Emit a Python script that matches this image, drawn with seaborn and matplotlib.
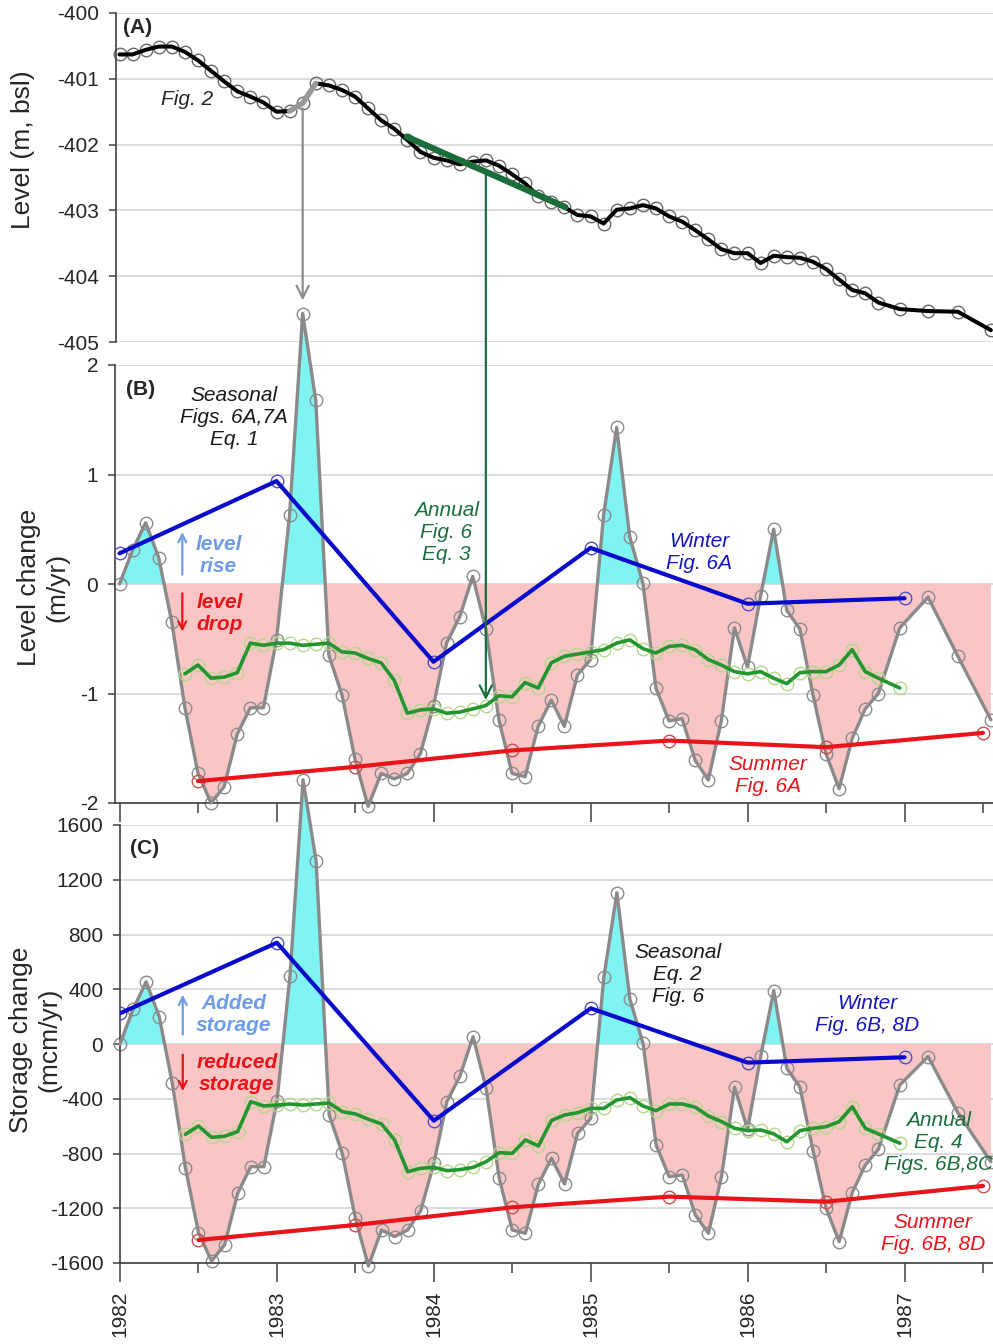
import numpy as np
import matplotlib
matplotlib.use("Agg")
import matplotlib.pyplot as plt
import seaborn as sns
from matplotlib.patches import ConnectionPatch

# ---------------- data ----------------
monthly_times = 1982 + np.arange(59) / 12.0
tail_times = [1986.97, 1987.15, 1987.34, 1987.55]
times = np.concatenate([monthly_times, tail_times])

level = [-400.63, -400.63, -400.56, -400.51, -400.51, -400.59, -400.72, -400.88, -401.04, -401.19,
         -401.27, -401.36, -401.50, -401.49, -401.37, -401.07, -401.10, -401.17, -401.27, -401.45,
         -401.63, -401.76, -401.93, -402.11, -402.20, -402.24, -402.30, -402.26, -402.24, -402.32,
         -402.45, -402.59, -402.78, -402.87, -402.95, -403.07, -403.09, -403.20, -402.99, -402.97,
         -402.92, -402.97, -403.09, -403.17, -403.30, -403.44, -403.59, -403.65, -403.65, -403.80,
         -403.69, -403.71, -403.72, -403.78, -403.89, -404.05, -404.21, -404.26, -404.40,
         -404.50, -404.53, -404.54, -404.82]

level_change = [0.00, 0.31, 0.56, 0.24, -0.35, -1.13, -1.73, -2.00, -1.85, -1.37,
                -1.13, -1.13, -0.51, 0.63, 2.47, 1.68, -0.65, -1.01, -1.60, -2.03,
                -1.73, -1.78, -1.73, -1.55, -1.11, -0.54, -0.30, 0.07, -0.41, -1.24,
                -1.73, -1.76, -1.30, -1.06, -1.30, -0.83, -0.69, 0.63, 1.43, 0.43,
                0.01, -0.95, -1.25, -1.23, -1.61, -1.79, -1.25, -0.40, -0.76, -0.11,
                0.50, -0.24, -0.41, -1.01, -1.55, -1.87, -1.41, -1.14, -1.00,
                -0.40, -0.12, -0.66, -1.24]

storage_change = [0, 253, 455, 200, -287, -903, -1378, -1585, -1468, -1091,
                  -896, -896, -420, 497, 1930, 1337, -519, -799, -1273, -1622,
                  -1359, -1407, -1359, -1217, -872, -421, -234, 53, -324, -981,
                  -1359, -1383, -1023, -835, -1023, -652, -543, 487, 1105, 326,
                  5, -738, -969, -957, -1249, -1383, -969, -316, -623, -88,
                  389, -178, -316, -779, -1200, -1444, -1086, -884, -769,
                  -299, -92, -502, -860]

annual_start = 5
annual_level = [-0.82, -0.74, -0.86, -0.85, -0.81, -0.54, -0.56, -0.54, -0.54, -0.56,
                -0.55, -0.54, -0.62, -0.63, -0.68, -0.72, -0.88, -1.18, -1.15, -1.14,
                -1.18, -1.17, -1.14, -1.11, -1.02, -1.03, -0.90, -0.95, -0.72, -0.66,
                -0.64, -0.62, -0.60, -0.54, -0.51, -0.59, -0.63, -0.57, -0.56, -0.60,
                -0.69, -0.74, -0.80, -0.82, -0.80, -0.86, -0.91, -0.81, -0.80, -0.80,
                -0.74, -0.60, -0.80, -0.86, -0.95]
annual_storage = [-660, -599, -682, -674, -640, -421, -453, -446, -438, -446,
                  -438, -431, -494, -511, -550, -584, -701, -933, -908, -901,
                  -925, -918, -901, -860, -794, -799, -701, -745, -558, -519,
                  -502, -470, -470, -409, -392, -453, -487, -438, -438, -462,
                  -526, -567, -616, -633, -628, -657, -714, -633, -616, -604,
                  -567, -458, -616, -657, -725]

winter_years = [1982.0, 1983.0, 1984.0, 1985.0, 1986.0, 1987.0]
winter_level = [0.28, 0.94, -0.71, 0.33, -0.18, -0.13]
winter_storage = [224, 740, -560, 261, -136, -97]

summer_years = [1982.5, 1983.5, 1984.5, 1985.5, 1986.5, 1987.5]
summer_level = [-1.80, -1.67, -1.52, -1.43, -1.49, -1.36]
summer_storage = [-1432, -1322, -1193, -1115, -1152, -1037]

trend_years = [1983.83, 1984.84]
trend_level = [-401.88, -402.95]

year_ticks = [1982, 1983, 1984, 1985, 1986, 1987]

# ---------------- style ----------------
sns.set_theme(style="white")
plt.rcParams["font.family"] = ["Liberation Sans", "DejaVu Sans"]
plt.rcParams["axes.unicode_minus"] = False

CYAN = "#80F3F3"
PINK = "#F9C5C5"
GREY = "#8A8A8A"
GREEN = "#23962F"
GREEN_MK = "#B5D68C"
DKGREEN = "#1B6E3C"
BLUE = "#0A0ACC"
BLUE_T = "#1616C0"
RED = "#E8141A"
LTBLUE = "#6E9CE8"
SPINE = "#404040"

W, H = 993, 1344
fig = plt.figure(figsize=(W / 100, H / 100), dpi=100)


def px_to_year(px):
    return 1982 + (px - 119.5) / 157.0


def make_axes(left_px, top_px, bottom_px):
    ax = fig.add_axes([left_px / W, 1 - bottom_px / H, 1 - left_px / W, (bottom_px - top_px) / H])
    ax.set_facecolor("none")
    ax.set_xlim(px_to_year(left_px), px_to_year(W))
    ax.yaxis.grid(True, color="#D9D9D9", lw=1.3)
    ax.xaxis.grid(False)
    ax.set_axisbelow(True)
    for s in ["top", "right"]:
        ax.spines[s].set_visible(False)
    for s in ["left", "bottom"]:
        ax.spines[s].set_color(SPINE)
        ax.spines[s].set_linewidth(1.2)
    ax.tick_params(axis="y", direction="out", length=5, width=1.1, color=SPINE,
                   labelsize=15, pad=7, left=True)
    return ax


def series(ax, x, y, color, lw, mec, z, clip=True):
    # markers (open circles) drawn beneath the connecting line
    sns.lineplot(x=x, y=y, ax=ax, color=mec, linewidth=0, marker="o", markersize=9,
                 markerfacecolor="none", markeredgecolor=mec, markeredgewidth=1.0,
                 estimator=None, legend=False, zorder=z - 0.5, clip_on=clip)
    sns.lineplot(x=x, y=y, ax=ax, color=color, linewidth=lw, estimator=None,
                 legend=False, zorder=z, clip_on=clip)


axA = make_axes(116, 13, 342)
axB = make_axes(115, 365, 803)
axC = make_axes(120, 825, 1263)

# ---- panel A ----
axA.spines["bottom"].set_visible(False)
axA.set_ylim(-405, -400)
axA.set_yticks([-400, -401, -402, -403, -404, -405])
axA.set_xticks([])
series(axA, times, level, "black", 2.9, "#6A6A6A", 3, clip=False)
sns.lineplot(x=times[13:16], y=level[13:16], ax=axA, color="#999999", linewidth=4,
             estimator=None, legend=False, zorder=4)
sns.lineplot(x=trend_years, y=trend_level, ax=axA, color=DKGREEN, linewidth=4.5,
             estimator=None, legend=False, zorder=4)
axA.text(0.008, 0.955, "(A)", transform=axA.transAxes, fontsize=15, fontweight="bold",
         ha="left", va="center")
axA.text(1982.43, -401.32, "Fig. 2", fontsize=15, style="italic", ha="center", va="center")


def seasonal_panel(ax, seasonal, annual, winter, summer):
    s = np.array(seasonal, dtype=float)
    ax.fill_between(times, s, 0, where=s > 0, interpolate=True, color=CYAN, lw=0,
                    zorder=1, clip_on=False)
    ax.fill_between(times, s, 0, where=s < 0, interpolate=True, color=PINK, lw=0,
                    zorder=1, clip_on=False)
    series(ax, times, seasonal, GREY, 2.4, "#8C8C8C", 3, clip=False)
    at = times[annual_start:annual_start + len(annual)]
    series(ax, at, annual, GREEN, 2.6, GREEN_MK, 4)
    series(ax, winter_years, winter, BLUE, 3.0, "#5050C8", 5)
    series(ax, summer_years, summer, RED, 3.0, "#C85050", 5, clip=False)
    ax.set_xticks(year_ticks)
    ax.set_xticks([y + 0.5 for y in year_ticks], minor=True)
    ax.tick_params(axis="x", which="major", direction="out", length=14, width=1.1,
                   color=SPINE, bottom=True, labelsize=15, pad=6)
    ax.tick_params(axis="x", which="minor", direction="out", length=7, width=1.1,
                   color=SPINE, bottom=True)


# ---- panel B ----
seasonal_panel(axB, level_change, annual_level, winter_level, summer_level)
axB.set_ylim(-2, 2)
axB.set_yticks([-2, -1, 0, 1, 2])
axB.set_xticklabels([])
axB.text(0.012, 0.943, "(B)", transform=axB.transAxes, fontsize=15, fontweight="bold",
         ha="left", va="center")
axB.text(1982.73, 1.52, "Seasonal\nFigs. 6A,7A\nEq. 1", fontsize=15, style="italic",
         ha="center", va="center", color="#1A1A1A", zorder=6)
axB.text(1984.08, 0.47, "Annual\nFig. 6\nEq. 3", fontsize=15, style="italic",
         ha="center", va="center", color=DKGREEN, zorder=6)
axB.text(1985.69, 0.29, "Winter\nFig. 6A", fontsize=15, style="italic",
         ha="center", va="center", color=BLUE_T, zorder=6)
axB.text(1986.13, -1.75, "Summer\nFig. 6A", fontsize=15, style="italic",
         ha="center", va="center", color=RED, zorder=6)
axB.text(1982.63, 0.26, "level\nrise", fontsize=15, style="italic", fontweight="bold",
         ha="center", va="center", color=LTBLUE, zorder=6)
axB.text(1982.64, -0.27, "level\ndrop", fontsize=15, style="italic", fontweight="bold",
         ha="center", va="center", color=RED, zorder=6)
axB.annotate("", xy=(1982.40, 0.50), xytext=(1982.40, 0.06),
             arrowprops=dict(arrowstyle="->", color=LTBLUE, lw=1.6, mutation_scale=14), zorder=6)
axB.annotate("", xy=(1982.40, -0.46), xytext=(1982.40, -0.06),
             arrowprops=dict(arrowstyle="->", color=RED, lw=1.6, mutation_scale=14), zorder=6)

# ---- panel C ----
seasonal_panel(axC, storage_change, annual_storage, winter_storage, summer_storage)
axC.set_ylim(-1600, 1600)
axC.set_yticks(list(range(-1600, 1601, 400)))
axC.set_xticklabels([str(y) for y in year_ticks], rotation=90, va="top")
axC.text(0.012, 0.947, "(C)", transform=axC.transAxes, fontsize=15, fontweight="bold",
         ha="left", va="center")
axC.text(1985.554, 511, "Seasonal\nEq. 2\nFig. 6", fontsize=15, style="italic",
         ha="center", va="center", color="#1A1A1A", zorder=6)
axC.text(1986.764, 212, "Winter\nFig. 6B, 8D", fontsize=15, style="italic",
         ha="center", va="center", color=BLUE_T, zorder=6)
axC.text(1987.217, -716, "Annual\nEq. 4\nFigs. 6B,8C", fontsize=15, style="italic",
         ha="center", va="center", color=DKGREEN, zorder=6)
axC.text(1987.18, -1388, "Summer\nFig. 6B, 8D", fontsize=15, style="italic",
         ha="center", va="center", color=RED, zorder=6)
axC.text(1982.726, 212, "Added\nstorage", fontsize=15, style="italic", fontweight="bold",
         ha="center", va="center", color=LTBLUE, zorder=6)
axC.text(1982.745, -219, "reduced\nstorage", fontsize=15, style="italic", fontweight="bold",
         ha="center", va="center", color=RED, zorder=6)
axC.annotate("", xy=(1982.40, 380), xytext=(1982.40, 50),
             arrowprops=dict(arrowstyle="->", color=LTBLUE, lw=1.6, mutation_scale=14), zorder=6)
axC.annotate("", xy=(1982.40, -365), xytext=(1982.40, -58),
             arrowprops=dict(arrowstyle="->", color=RED, lw=1.6, mutation_scale=14), zorder=6)

# ---- connecting arrows ----
k_peak = 14
con1 = ConnectionPatch(xyA=(times[k_peak], level[k_peak] - 0.08), coordsA=axA.transData,
                       xyB=(times[k_peak], level_change[k_peak] + 0.12), coordsB=axB.transData,
                       arrowstyle="->", color="#8C8C8C", lw=1.6, mutation_scale=22)
fig.add_artist(con1)
k_ann = 28
trend_at = float(np.interp(times[k_ann], trend_years, trend_level))
con2 = ConnectionPatch(xyA=(times[k_ann], trend_at), coordsA=axA.transData,
                       xyB=(times[k_ann], annual_level[k_ann - annual_start] + 0.05),
                       coordsB=axB.transData,
                       arrowstyle="->", color=DKGREEN, lw=1.6, mutation_scale=22)
fig.add_artist(con2)

# ---- axis labels ----
fig.text(23 / W, 1 - 150 / H, "Level (m, bsl)", rotation=90, fontsize=19,
         ha="center", va="center")
fig.text(43 / W, 1 - 587 / H, "Level change\n(m/yr)", rotation=90, fontsize=19,
         ha="center", va="center", multialignment="center")
fig.text(35 / W, 1 - 1040 / H, "Storage change\n(mcm/yr)", rotation=90, fontsize=19,
         ha="center", va="center", multialignment="center")

fig.savefig("out.png", dpi=100)
